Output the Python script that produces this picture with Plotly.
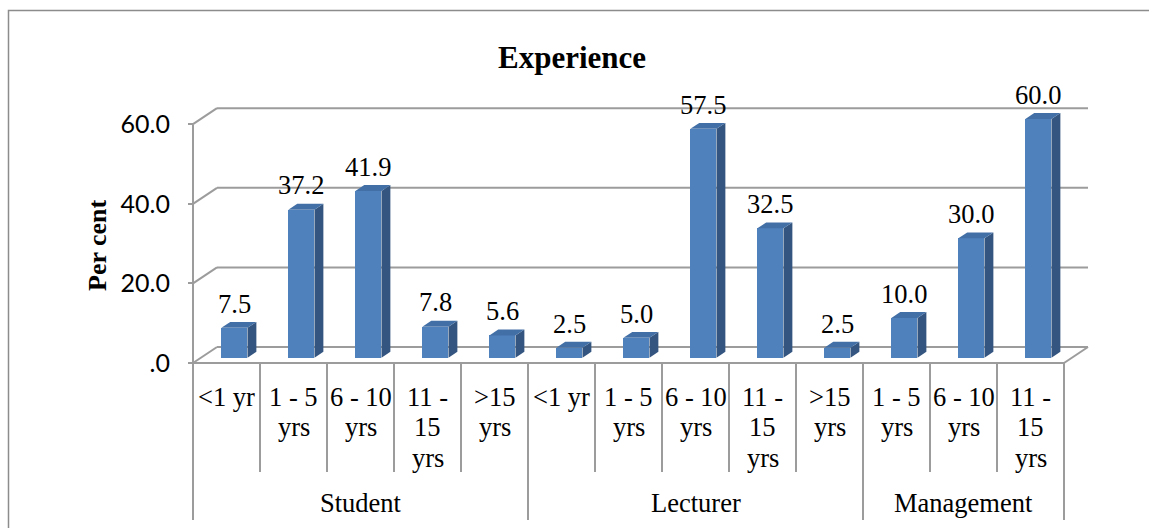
import plotly.graph_objects as go

# ---- data ----
groups = ["Student", "Lecturer", "Management"]
group_sizes = [5, 5, 3]
categories = ["<1 yr", "1 - 5\nyrs", "6 - 10\nyrs", "11 -\n15\nyrs", ">15\nyrs",
              "<1 yr", "1 - 5\nyrs", "6 - 10\nyrs", "11 -\n15\nyrs", ">15\nyrs",
              "1 - 5\nyrs", "6 - 10\nyrs", "11 -\n15\nyrs"]
values = [7.5, 37.2, 41.9, 7.8, 5.6,
          2.5, 5.0, 57.5, 32.5, 2.5,
          10.0, 30.0, 60.0]
y_ticks = [0, 20, 40, 60]
y_ticktext = [".0", "20.0", "40.0", "60.0"]
title = "Experience"
y_title = "Per cent"

# ---- geometry (pixel layout of the page) ----
W, H = 1149, 528
XS, YS = 67.0, 3.98          # px per category / px per percent
X0, Y0 = 193.0, 363.0        # px of front origin


def dx(px):
    return (px - X0) / XS


def dy(py):
    return (Y0 - py) / YS


BDX, BDY = 24 / XS, 16 / YS        # back wall depth offset
D1, D2 = 0.33, 0.70                # bar front / back depth fractions
BW = 0.39                          # bar width in category units
n = len(values)

FRONT = "#4F81BD"
SIDE = "#34557F"
TOP = "#426FA6"
GRID = "#9C9C9C"

centers = [i + 0.5 + D1 * BDX for i in range(n)]
base = D1 * BDY

fig = go.Figure()
fig.add_trace(go.Bar(x=centers, y=values, base=[base] * n, width=BW,
                     marker=dict(color=FRONT, line=dict(width=0)),
                     hoverinfo="skip", showlegend=False))

shapes = []


def line(x0, y0, x1, y1, color=GRID, w=2, layer="below"):
    shapes.append(dict(type="line", xref="x", yref="y", x0=x0, y0=y0, x1=x1, y1=y1,
                       line=dict(color=color, width=w), layer=layer))


# back wall gridlines and floor diagonals
for v in y_ticks:
    line(BDX, v + BDY, n + BDX, v + BDY)
    line(0, v, BDX, v + BDY)
line(0, 0, n, 0)
line(n, 0, n + BDX, BDY)
line(0, 0, 0, y_ticks[-1])

# category separators
bounds = [0]
for s in group_sizes:
    bounds.append(bounds[-1] + s)
for k in range(n + 1):
    yend = dy(520) if k in bounds else dy(472)
    line(k, 0, k, yend)

# 3-D faces of bars
ddx, ddy = (D2 - D1) * BDX, (D2 - D1) * BDY
for c, v in zip(centers, values):
    xl, xr = c - BW / 2, c + BW / 2
    top = base + v
    side = f"M {xr},{base} L {xr},{top} L {xr+ddx},{top+ddy} L {xr+ddx},{base+ddy} Z"
    topf = f"M {xl},{top} L {xr},{top} L {xr+ddx},{top+ddy} L {xl+ddx},{top+ddy} Z"
    shapes.append(dict(type="path", xref="x", yref="y", path=side,
                       fillcolor=SIDE, line=dict(width=0), layer="above"))
    shapes.append(dict(type="path", xref="x", yref="y", path=topf,
                       fillcolor=TOP, line=dict(width=0), layer="above"))

# outer chart border
shapes.append(dict(type="rect", xref="paper", yref="paper",
                   x0=8.5 / W, x1=1.02, y0=-0.02, y1=1 - 10.5 / H,
                   line=dict(color="#8C8C8C", width=1.5), layer="below"))

annotations = []
SERIF = "Liberation Serif, Times New Roman, serif"
TSIZE = 26.5

# value labels
for c, v in zip(centers, values):
    annotations.append(dict(x=c, y=base + v + ddy + 4.6, xref="x", yref="y",
                            text=f"{v:.1f}", showarrow=False,
                            font=dict(family=SERIF, size=TSIZE, color="black"),
                            xanchor="center", yanchor="middle"))

# category labels (one annotation per line)
row_px = [397, 427, 458]
for i, lab in enumerate(categories):
    for j, part in enumerate(lab.split("\n")):
        annotations.append(dict(x=i + 0.5, y=dy(row_px[j]), xref="x", yref="y",
                                text=part, showarrow=False,
                                font=dict(family=SERIF, size=TSIZE, color="black"),
                                xanchor="center", yanchor="middle"))

# group labels
for g, a, b in zip(groups, bounds[:-1], bounds[1:]):
    annotations.append(dict(x=(a + b) / 2, y=dy(503), xref="x", yref="y",
                            text=g, showarrow=False,
                            font=dict(family=SERIF, size=TSIZE, color="black"),
                            xanchor="center", yanchor="middle"))

# title and axis title
annotations.append(dict(x=dx(572), y=dy(57), xref="x", yref="y",
                        text=f"<b>{title}</b>", showarrow=False,
                        font=dict(family=SERIF, size=31, color="black"),
                        xanchor="center", yanchor="middle"))
annotations.append(dict(x=dx(97), y=dy(245), xref="x", yref="y",
                        text=f"<b>{y_title}</b>", showarrow=False, textangle=-90,
                        font=dict(family=SERIF, size=26, color="black"),
                        xanchor="center", yanchor="middle"))

fig.update_layout(
    width=W, height=H,
    margin=dict(l=0, r=0, t=0, b=0),
    paper_bgcolor="white", plot_bgcolor="white",
    xaxis=dict(range=[dx(0), dx(W)], visible=False, fixedrange=True),
    yaxis=dict(range=[dy(H), dy(0)], tickvals=y_ticks, ticktext=y_ticktext,
               ticks="outside", ticklen=5, tickwidth=2, tickcolor=GRID,
               showline=False, showgrid=False, zeroline=False,
               anchor="free", position=X0 / W, automargin=False,
               ticklabelstandoff=13,
               tickfont=dict(family="Lato", size=25, color="black"),
               fixedrange=True),
    shapes=shapes, annotations=annotations,
    bargap=0, showlegend=False,
)

fig.write_html("out.html")
